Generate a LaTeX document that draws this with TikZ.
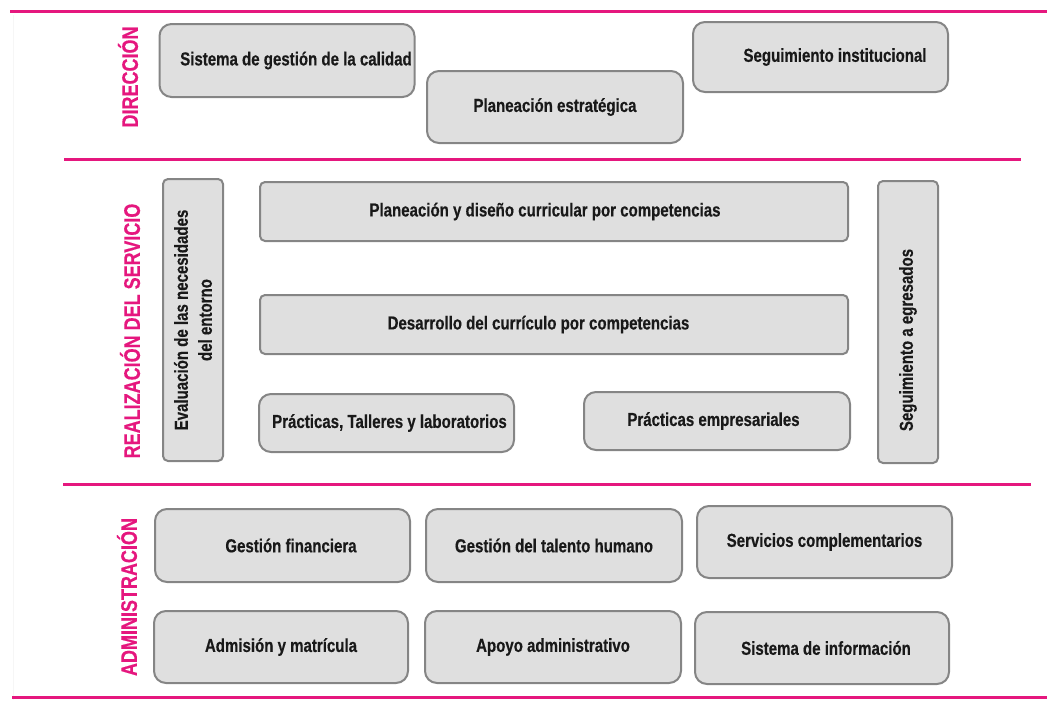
\documentclass[tikz,border=0pt]{standalone}
\usepackage{fontspec}
\setmainfont{Liberation Sans}[FakeStretch=0.80, BoldFeatures={FakeBold=0.4}]
\definecolor{mag}{HTML}{E5177E}
\definecolor{boxfill}{HTML}{DFDFDF}
\definecolor{boxdraw}{HTML}{858585}
\tikzset{
  procbox/.style={draw=boxdraw, fill=boxfill, line width=2pt, rounded corners=12pt,
    inner sep=0pt, font=\bfseries\fontsize{18.8}{24}\selectfont, text=black!90, align=center},
  flatbox/.style={procbox, rounded corners=5pt},
  sectlabel/.style={rotate=90, text=mag, font=\bfseries\fontsize{22.5}{24}\selectfont, inner sep=0pt},
  sectline/.style={draw=mag, line width=3pt}
}
\begin{document}
\begin{tikzpicture}[x=1pt,y=-1pt]
\useasboundingbox (0,0) rectangle (1047,707);
% faint left guide
\draw[gray!7, line width=1pt] (13,15) -- (13,700);
% section separators
\coordinate (l1a) at (10,11);  \coordinate (l1b) at (1047,11);
\coordinate (l2a) at (64,159); \coordinate (l2b) at (1021,159);
\coordinate (l3a) at (63,484); \coordinate (l3b) at (1031,484);
\coordinate (l4a) at (12,697); \coordinate (l4b) at (1047,697);
\draw[sectline] (l1a) -- (l1b);
\draw[sectline] (l2a) -- (l2b);
\draw[sectline] (l3a) -- (l3b);
\draw[sectline] (l4a) -- (l4b);
% section labels
\node[sectlabel] (dir) at (128,77) {DIRECCIÓN};
\node[sectlabel] (real) at (130,331) {REALIZACIÓN DEL SERVICIO};
\node[sectlabel] (adm) at (127,597) {ADMINISTRACIÓN};
% Dirección
\node[procbox, minimum width=255pt, minimum height=73pt] (sgc) at (287,60.5) {\hspace*{18pt}Sistema de gestión de la calidad};
\node[procbox, minimum width=256pt, minimum height=72pt] (pe) at (555,107) {\raisebox{-3pt}{Planeación estratégica}};
\node[procbox, minimum width=255pt, minimum height=70pt] (si) at (820.5,57) {\hspace*{29pt}Seguimiento institucional};
% Realización del servicio
\node[flatbox, rotate=90, minimum width=282pt, minimum height=60pt] (eval) at (193,320) {Evaluación de las necesidades\\del entorno};
\node[flatbox, minimum width=588pt, minimum height=59pt] (pdc) at (554,211.5) {Planeación y diseño curricular por competencias\hspace*{18pt}};
\node[flatbox, minimum width=588pt, minimum height=59pt] (dcc) at (554,324.5) {Desarrollo del currículo por competencias\hspace*{31pt}};
\node[procbox, minimum width=255pt, minimum height=58pt] (ptl) at (386.5,423) {\hspace*{6pt}\raisebox{-3pt}{Prácticas, Talleres y laboratorios}};
\node[procbox, minimum width=266pt, minimum height=58pt] (pem) at (717,421) {\raisebox{-2pt}{Prácticas empresariales}\hspace*{7pt}};
\node[flatbox, rotate=90, minimum width=282pt, minimum height=60pt] (seg) at (908,322) {Seguimiento a egresados\hspace*{36pt}};
% Administración
\node[procbox, minimum width=255pt, minimum height=73pt] (gf) at (282.5,545.5) {\hspace*{17pt}\raisebox{-1.5pt}{Gestión financiera}};
\node[procbox, minimum width=256pt, minimum height=73pt] (gth) at (554,545.5) {\raisebox{-1.5pt}{Gestión del talento humano}};
\node[procbox, minimum width=255pt, minimum height=72pt] (sc) at (824.5,542) {\raisebox{-1pt}{Servicios complementarios}};
\node[procbox, minimum width=254pt, minimum height=72pt] (am) at (281,647) {\raisebox{-1pt}{Admisión y matrícula}};
\node[procbox, minimum width=256pt, minimum height=72pt] (aa) at (553,647) {\raisebox{2pt}{Apoyo administrativo}};
\node[procbox, minimum width=254pt, minimum height=72pt] (sinf) at (822,648) {\hspace*{8pt}\raisebox{-4pt}{Sistema de información}};
\end{tikzpicture}
\end{document}
